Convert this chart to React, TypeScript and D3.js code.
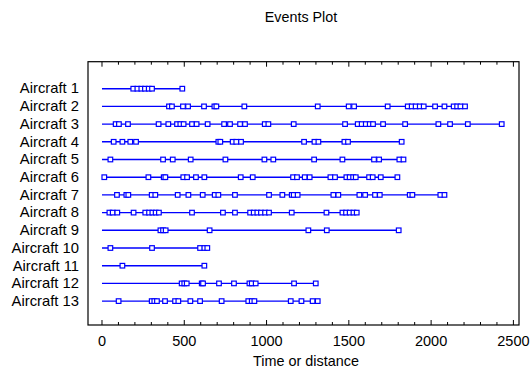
import React from "react";
import * as d3 from "d3";

const categories = [
  "Aircraft 1", "Aircraft 2", "Aircraft 3", "Aircraft 4", "Aircraft 5", "Aircraft 6", "Aircraft 7",
  "Aircraft 8", "Aircraft 9", "Aircraft 10", "Aircraft 11", "Aircraft 12", "Aircraft 13",
];

const aircraft1 = [190, 215, 239, 261, 284, 304, 488];
const aircraft2 = [407, 425, 492, 523, 620, 683, 695, 865, 1311, 1499, 1532, 1736, 1858, 1882, 1906, 1931, 1955, 2024, 2081, 2137, 2158, 2178, 2206];
const aircraft3 = [83, 103, 158, 344, 403, 456, 476, 496, 547, 575, 642, 742, 778, 839, 869, 989, 1011, 1165, 1477, 1554, 1578, 1603, 1627, 1647, 1708, 1842, 2044, 2115, 2223, 2429];
const aircraft4 = [71, 124, 172, 207, 707, 719, 794, 816, 845, 1228, 1291, 1315, 1473, 1495, 1821];
const aircraft5 = [51, 371, 430, 539, 750, 987, 1041, 1289, 1461, 1653, 1684, 1807, 1832];
const aircraft6 = [14, 282, 375, 385, 494, 517, 571, 622, 843, 916, 1161, 1185, 1232, 1262, 1388, 1416, 1485, 1505, 1526, 1542, 1623, 1645, 1694, 1795];
const aircraft7 = [91, 148, 160, 302, 324, 460, 525, 612, 685, 707, 808, 1015, 1096, 1153, 1165, 1189, 1406, 1436, 1564, 1599, 1659, 1688, 1870, 1886, 2056, 2081];
const aircraft8 = [45, 65, 93, 192, 263, 286, 306, 326, 346, 547, 735, 808, 900, 922, 944, 966, 991, 1015, 1153, 1364, 1461, 1483, 1505, 1528, 1548];
const aircraft9 = [355, 371, 387, 654, 1254, 1366, 1803];
const aircraft10 = [51, 304, 596, 622, 640];
const aircraft11 = [124, 622];
const aircraft12 = [484, 500, 515, 606, 614, 711, 802, 896, 910, 934, 1167, 1299];
const aircraft13 = [101, 302, 318, 334, 383, 444, 464, 537, 596, 727, 889, 910, 926, 1147, 1212, 1280, 1311];

const xTicks = [0, 500, 1000, 1500, 2000, 2500];

const events = [
  aircraft1, aircraft2, aircraft3, aircraft4, aircraft5, aircraft6, aircraft7,
  aircraft8, aircraft9, aircraft10, aircraft11, aircraft12, aircraft13,
];

export default function App() {
  const W = 531, H = 370;
  const left = 88, right = 519, top = 61.7, bottom = 325;
  const x = d3.scaleLinear().domain([-85, 2534]).range([left, right]);
  const y = d3.scaleLinear().domain([-0.525, 14.35]).range([top, bottom]);
  const minor = d3.range(0, 2501, 100);
  const blue = "#0000ff";
  const font = "Arial, 'Liberation Sans', sans-serif";
  const sq = 4.6;

  return (
    <div style={{ position: "absolute", left: 0, top: 0 }}>
      <svg width={W} height={H} style={{ display: "block", background: "#fff" }}>
        <text x={301} y={22} textAnchor="middle" fontFamily={font} fontSize={14.3} fill="#000">
          Events Plot
        </text>
        {events.map((ev, i) => {
          const yy = y(i + 1);
          const last = d3.max(ev) as number;
          return (
            <g key={i}>
              <text x={79} y={yy + 4.8} textAnchor="end" fontFamily={font} fontSize={14.8} fill="#000">
                {categories[i]}
              </text>
              <line x1={x(0)} x2={x(last)} y1={yy} y2={yy} stroke={blue} strokeWidth={1.4} />
              {ev.map((v, j) => (
                <rect
                  key={j}
                  x={x(v) - sq / 2}
                  y={yy - sq / 2}
                  width={sq}
                  height={sq}
                  fill="#fff"
                  stroke={blue}
                  strokeWidth={1.2}
                />
              ))}
            </g>
          );
        })}
        <rect x={left} y={top} width={right - left} height={bottom - top} fill="none" stroke="#000" strokeWidth={1.2} />
        {minor.map((t) => {
          const major = t % 500 === 0;
          const len = major ? 5 : 3;
          return (
            <g key={t}>
              <line x1={x(t)} x2={x(t)} y1={bottom} y2={bottom - len} stroke="#000" strokeWidth={1} />
              <line x1={x(t)} x2={x(t)} y1={top} y2={top + len} stroke="#000" strokeWidth={1} />
            </g>
          );
        })}
        {xTicks.map((t) => (
          <text key={t} x={x(t)} y={346} textAnchor="middle" fontFamily={font} fontSize={14.5} fill="#000">
            {t}
          </text>
        ))}
        <text x={306} y={366} textAnchor="middle" fontFamily={font} fontSize={14.4} fill="#000">
          Time or distance
        </text>
      </svg>
    </div>
  );
}
